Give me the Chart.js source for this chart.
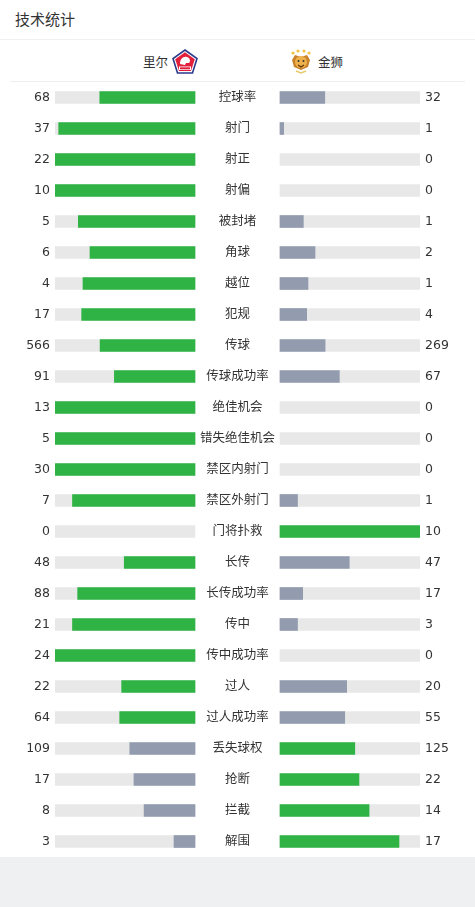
<html><head>
<meta charset="UTF-8">
<title>技术统计</title>
<script src="https://cdn.jsdelivr.net/npm/chart.js"></script>
<style>
    body {
        margin: 0;
        width: 475px;
        height: 907px;
        background: #eff0f2;
        font-family: "DejaVu Sans", "Noto Sans CJK SC", sans-serif;
        color: #333;
        overflow: hidden;
    }
    .panel {
        background: #fff;
        height: 857px;
        position: relative;
    }
    .title {
        height: 40px;
        line-height: 40px;
        padding-left: 15px;
        font-size: 15px;
        border-bottom: 1px solid #f0f0f0;
        box-sizing: border-box;
    }
    .teams {
        position: absolute;
        top: 41px;
        left: 10px;
        width: 455px;
        height: 40px;
        border-bottom: 1px solid #eeeeee;
        font-size: 12.5px;
    }
    .team {
        position: absolute;
        top: 8px;
        height: 25px;
        display: flex;
        align-items: center;
    }
    .team svg { display: block; }
    #home { left: 133px; }
    #home span { margin-right: 4px; }
    #away { left: 279px; }
    #away span { margin-left: 5px; }
    .chart-box {
        position: absolute;
        top: 81.5px;
        left: 0;
        width: 475px;
        height: 775px;
    }
</style>
</head>
<body>
<div class="panel">
    <div class="title">技术统计</div>
    <div class="teams">
        <div class="team" id="home">
            <span>里尔</span>
            <svg width="26" height="25" viewBox="0 0 26 25">
                <path d="M13 1 L25 9.5 L20.5 24 L5.5 24 L1 9.5 Z" fill="#fff" stroke="#2b3a8c" stroke-width="1.6"/>
                <path d="M13 3.2 L22.8 10.2 L19 22 L7 22 L3.2 10.2 Z" fill="#e2203b"/>
                <path d="M8 15 C8 10 11 7 15 8 C18 9 19 12 17 14 L14 14 L13 16 Z" fill="#fff"/>
                <rect x="7" y="17.5" width="12" height="3.5" fill="#fff"/>
                <rect x="8" y="18.3" width="10" height="2" fill="#e2203b"/>
            </svg>
        </div>
        <div class="team" id="away">
            <svg width="24" height="26" viewBox="0 0 24 26">
                <circle cx="4" cy="4" r="1.6" fill="#f2c443"/>
                <circle cx="9" cy="2" r="1.6" fill="#f2c443"/>
                <circle cx="15" cy="2" r="1.6" fill="#f2c443"/>
                <circle cx="20" cy="4" r="1.6" fill="#f2c443"/>
                <path d="M3 11 L6 6 L12 8 L18 6 L21 11 L19 18 L12 21 L5 18 Z" fill="#c9822a"/>
                <ellipse cx="12" cy="13" rx="6" ry="6" fill="#eeb04a"/>
                <circle cx="9.5" cy="12" r="1" fill="#333"/>
                <circle cx="14.5" cy="12" r="1" fill="#333"/>
                <path d="M9 16 L12 18 L15 16" stroke="#5a3210" stroke-width="1.2" fill="none"/>
                <path d="M7 22 L12 24 L17 22" stroke="#e8c96a" stroke-width="1.5" fill="none"/>
            </svg>
            <span>金狮</span>
        </div>
    </div>
    <div class="chart-box"><canvas id="statsChart"></canvas></div>
</div>

<script>
    const categories = ['控球率', '射门', '射正', '射偏', '被封堵', '角球', '越位', '犯规', '传球', '传球成功率',
        '绝佳机会', '错失绝佳机会', '禁区内射门', '禁区外射门', '门将扑救', '长传', '长传成功率', '传中',
        '传中成功率', '过人', '过人成功率', '丢失球权', '抢断', '拦截', '解围'];
    const homeValues = [68, 37, 22, 10, 5, 6, 4, 17, 566, 91, 13, 5, 30, 7, 0, 48, 88, 21, 24, 22, 64, 109, 17, 8, 3];
    const awayValues = [32, 1, 0, 0, 1, 2, 1, 4, 269, 67, 0, 0, 0, 1, 10, 47, 17, 3, 0, 20, 55, 125, 22, 14, 17];

    const GREEN = '#2fb344';
    const GREY = '#939cae';
    const TRACK = '#e8e8e8';
    const GAP = 85 / 1.4; // centre column in track units (a track is 100 units)

    const homeShare = homeValues.map((v, i) => {
        const t = v + awayValues[i];
        return t ? v / t * 100 : 0;
    });
    const awayShare = awayValues.map((v, i) => {
        const t = v + homeValues[i];
        return t ? v / t * 100 : 0;
    });

    const labelPlugin = {
        id: 'rowLabels',
        afterDatasetsDraw(chart) {
            const c = chart.ctx;
            const y = chart.scales.y;
            c.save();
            c.fillStyle = '#333';
            c.font = '12.5px "DejaVu Sans", "Noto Sans CJK SC", sans-serif';
            c.textBaseline = 'middle';
            categories.forEach((name, i) => {
                const py = y.getPixelForValue(i);
                c.textAlign = 'center';
                c.fillText(name, 237.5, py);
                c.textAlign = 'right';
                c.fillText(String(homeValues[i]), 50, py);
                c.textAlign = 'left';
                c.fillText(String(awayValues[i]), 425, py);
            });
            c.restore();
        }
    };

    new Chart(document.getElementById('statsChart'), {
        type: 'bar',
        data: {
            labels: categories,
            datasets: [
                {
                    data: homeShare.map(s => s > 0 ? [100 - s, 100] : null),
                    backgroundColor: homeValues.map((v, i) => v > awayValues[i] ? GREEN : GREY),
                    order: 1
                },
                {
                    data: awayShare.map(s => s > 0 ? [100 + GAP, 100 + GAP + s] : null),
                    backgroundColor: awayValues.map((v, i) => v > homeValues[i] ? GREEN : GREY),
                    order: 1
                },
                {
                    data: categories.map(() => [0, 100]),
                    backgroundColor: TRACK,
                    order: 2
                },
                {
                    data: categories.map(() => [100 + GAP, 200 + GAP]),
                    backgroundColor: TRACK,
                    order: 2
                }
            ]
        },
        options: {
            indexAxis: 'y',
            responsive: true,
            maintainAspectRatio: false,
            animation: false,
            layout: { padding: { left: 55, right: 55, top: 0, bottom: 0 } },
            datasets: { bar: { grouped: false, barThickness: 12, borderWidth: 0, borderSkipped: false } },
            scales: {
                x: { display: false, min: 0, max: 200 + GAP },
                y: { display: false }
            },
            plugins: {
                legend: { display: false },
                tooltip: { enabled: false }
            }
        },
        plugins: [labelPlugin]
    });
</script>
</body>
</html>
